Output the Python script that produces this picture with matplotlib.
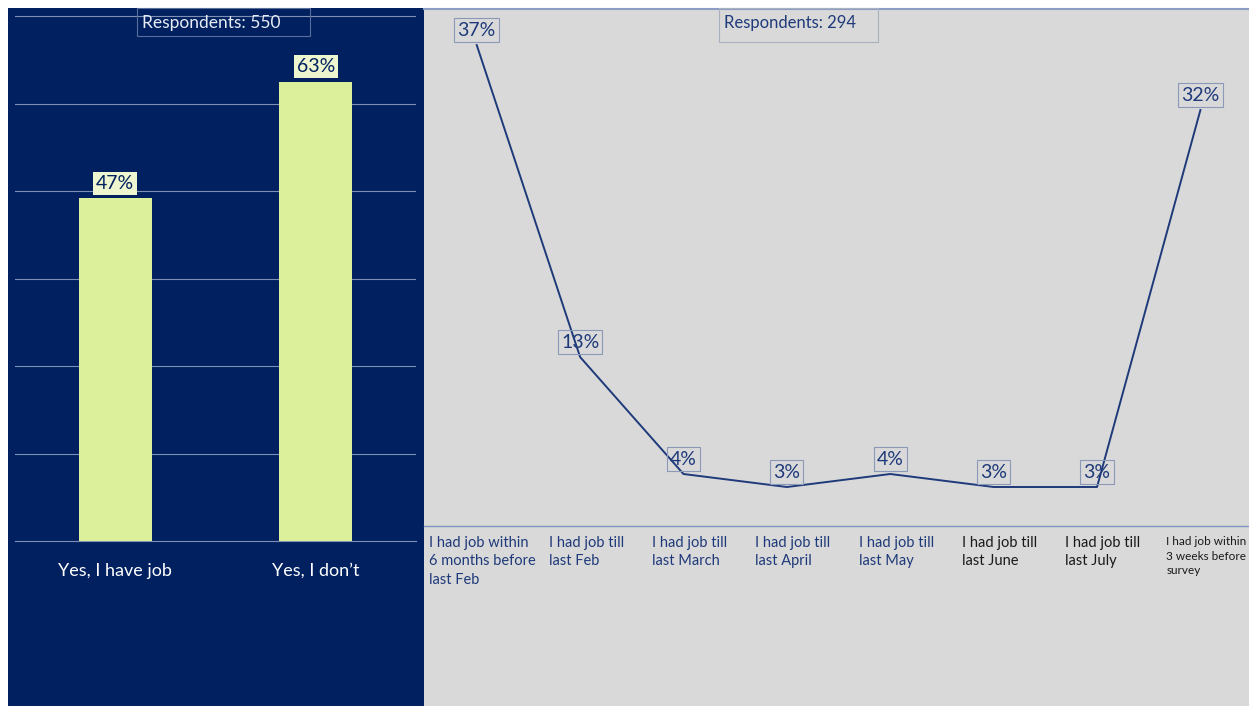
import matplotlib
matplotlib.use("Agg")
import matplotlib.pyplot as plt
import matplotlib.transforms as mtransforms
from matplotlib.patches import Rectangle

plt.rcParams['font.family'] = ['Lato', 'DejaVu Sans']

# job status (bar chart)
status_labels = ["Yes, I have job", "Yes, I don\u2019t"]
status_values = [47, 63]
status_respondents = 550

# when the job was lost (line chart)
period_labels = [
    "I had job within\n6 months before\nlast Feb",
    "I had job till\nlast Feb",
    "I had job till\nlast March",
    "I had job till\nlast April",
    "I had job till\nlast May",
    "I had job till\nlast June",
    "I had job till\nlast July",
    "I had job within\n3 weeks before\nsurvey",
]
period_values = [37, 13, 4, 3, 4, 3, 3, 32]
period_respondents = 294

NAVY = "#002060"
GREY = "#D9D9D9"
LINE = "#1F3A7A"
BAR = "#DCF09C"

W, H = 1249, 706
fig = plt.figure(figsize=(W / 100, H / 100), dpi=100)
fig.patch.set_facecolor("white")


def fx(px):
    return px / W


def fy(py):
    return (H - py) / H


# panel backgrounds, kept behind both axes
fig.patches.append(Rectangle((fx(8), 0), fx(424) - fx(8), fy(8), transform=fig.transFigure,
                             facecolor=NAVY, edgecolor="none", zorder=-10))
fig.patches.append(Rectangle((fx(424), 0), 1 - fx(424), fy(8), transform=fig.transFigure,
                             facecolor=GREY, edgecolor="none", zorder=-10))
fig.lines.append(plt.Line2D([fx(424), 1], [fy(9), fy(9)], transform=fig.transFigure,
                            color="#8C9CC4", lw=1.5, zorder=-9))

# ---- left: bar chart ----
ax1 = fig.add_axes([fx(15), fy(541), fx(416) - fx(15), fy(8) - fy(541)])
ax1.set_facecolor("none")
x1 = range(len(status_labels))
ax1.bar(x1, status_values, width=0.364, color=BAR, zorder=3)
ax1.set_xlim(-0.5, 1.5)
ax1.set_ylim(0, 73.1)
ax1.set_yticks([12, 24, 36, 48, 60, 72])
ax1.yaxis.grid(True, color="#8090B4", lw=0.8)
ax1.set_axisbelow(True)
ax1.tick_params(left=False, labelleft=False, bottom=False)
ax1.set_xticks(list(x1))
ax1.set_xticklabels(status_labels, color="white", fontsize=13)
ax1.tick_params(axis="x", pad=12)
for s in ["top", "right", "left"]:
    ax1.spines[s].set_visible(False)
ax1.spines["bottom"].set_color("#8090B4")
ax1.spines["bottom"].set_linewidth(0.8)

for i, v in zip(x1, status_values):
    ax1.annotate(f"{v}%", (i, v), xytext=(0, 15), textcoords="offset pixels",
                 ha="center", va="center", fontsize=14, color=NAVY, zorder=4,
                 bbox=dict(boxstyle="square,pad=0.15", fc="#EEF6CF", ec="none"))

fig.patches.append(Rectangle((fx(137), fy(36)), fx(310) - fx(137), fy(8) - fy(36),
                             transform=fig.transFigure, facecolor="none",
                             edgecolor="#5A6E99", lw=0.8, zorder=2))
fig.text(fx(142), fy(23), f"Respondents: {status_respondents}", color="#E8ECF4",
         fontsize=12.5, ha="left", va="center")

# ---- right: line chart ----
ax2 = fig.add_axes([fx(424), fy(526), 1 - fx(424), fy(8) - fy(526)])
ax2.set_facecolor("none")
x2 = range(len(period_labels))
ax2.plot(x2, period_values, color=LINE, lw=1.4, zorder=3)
ax2.set_xlim(-0.51, 7.47)
ax2.set_ylim(0, 39.85)
ax2.set_yticks([])
ax2.set_xticks([])
for s in ["top", "right", "left"]:
    ax2.spines[s].set_visible(False)
ax2.spines["bottom"].set_color("#8095C0")
ax2.spines["bottom"].set_linewidth(1)

# category labels below the baseline, nudged a little to the right
label_tf = ax2.get_xaxis_transform() + mtransforms.ScaledTranslation(6 / 100, -10 / 100, fig.dpi_scale_trans)
label_colors = [LINE] * 5 + ["#1A1A1A"] * 3
label_sizes = [10.5] * 7 + [8.5]
for i, (lab, c, fs) in enumerate(zip(period_labels, label_colors, label_sizes)):
    ax2.text(i, 0, lab, transform=label_tf, ha="center", va="top", multialignment="left",
             color=c, fontsize=fs, linespacing=1.4)

for i, v in zip(x2, period_values):
    ax2.annotate(f"{v}%", (i, v), xytext=(0, 15), textcoords="offset pixels",
                 ha="center", va="center", fontsize=14, color=LINE, zorder=4,
                 bbox=dict(boxstyle="square,pad=0.16", fc="none", ec="#8C98B8", lw=0.8))

fig.patches.append(Rectangle((fx(719), fy(42)), fx(878) - fx(719), fy(8) - fy(42),
                             transform=fig.transFigure, facecolor="none",
                             edgecolor="#A8B0C0", lw=0.8, zorder=2))
fig.text(fx(724), fy(23), f"Respondents: {period_respondents}", color=LINE,
         fontsize=12, ha="left", va="center")

fig.savefig("out.png", dpi=100)
